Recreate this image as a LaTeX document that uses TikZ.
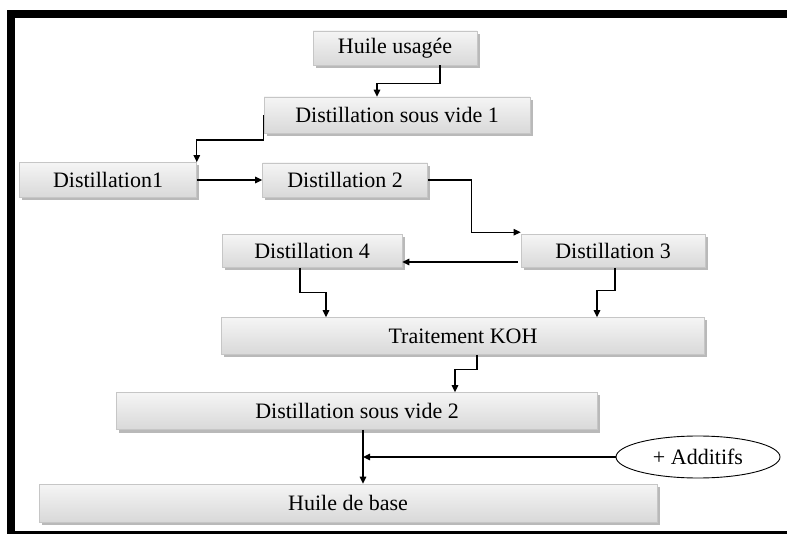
\documentclass[tikz,border=0pt]{standalone}
\usepackage{fontspec}
\setmainfont{Liberation Serif}
\usetikzlibrary{arrows.meta,shapes.geometric,shadows}
\begin{document}
\begin{tikzpicture}[x=1pt,y=-1pt,
  box/.style={rectangle, draw=gray!45, line width=0.6pt, top color=gray!8, bottom color=gray!30,
    drop shadow={shadow xshift=2.5pt, shadow yshift=-3pt, fill=gray!55, opacity=1},
    font=\fontsize{22}{26}\selectfont, inner sep=0pt},
  arr/.style={draw=black, line width=1.3pt, -{Triangle[length=7pt,width=6.5pt]}},
  ln/.style={draw=black, line width=1.3pt}]
\useasboundingbox (0,0) rectangle (787,534);
% frame
\fill[black] (7,10) rectangle (787,18);
\fill[black] (7,10) rectangle (15,534);
\fill[black] (7,531) rectangle (787,534);
% nodes
\node[box, minimum width=164pt, minimum height=34pt] (hu) at (395,48) {Huile usagée};
\node[box, minimum width=266pt, minimum height=36pt] (dsv1) at (397,115) {Distillation sous vide 1};
\node[box, minimum width=177pt, minimum height=35pt] (d1) at (108,180) {Distillation1};
\node[box, minimum width=165pt, minimum height=34pt] (d2) at (345,180) {Distillation 2};
\node[box, minimum width=184pt, minimum height=33pt] (d3) at (613,251) {Distillation 3};
\node[box, minimum width=180pt, minimum height=33pt] (d4) at (312,251) {Distillation 4};
\node[box, minimum width=483pt, minimum height=37pt] (koh) at (463,336) {Traitement KOH};
\node[box, minimum width=481pt, minimum height=37pt] (dsv2) at (357,411) {Distillation sous vide 2};
\node[box, minimum width=618pt, minimum height=38pt] (hb) at (348,503) {Huile de base};
\node[ellipse, draw=black, line width=0.9pt, fill=white, minimum width=164pt, minimum height=42pt,
  inner sep=0pt, font=\fontsize{22}{26}\selectfont] (add) at (698,457) {+ Additifs};
% connectors
\draw[arr] ([xshift=45pt]hu.south) -- ++(0,18) -| ([xshift=-20pt]dsv1.north);
\draw[arr] (dsv1.west) -- ++(0,25) -| (d1.north east);
\draw[arr] (d1.east) -- (d2.west);
\draw[arr] (d2.east) -- ++(44,0) |- ([yshift=2pt]d3.north west);
\draw[arr] ([xshift=-3pt,yshift=-11pt]d3.west) -- ([yshift=-11pt]d4.east);
\draw[arr] ([xshift=-12pt]d4.south) -- ++(0,25) -| ([xshift=-137pt]koh.north);
\draw[arr] ([xshift=2pt]d3.south) -- ++(0,23) -| ([xshift=134pt]koh.north);
\draw[arr] ([xshift=14pt]koh.south) -- ++(0,15) -| ([xshift=98pt]dsv2.north);
\coordinate (m) at ([xshift=15pt]hb.north);
\draw[arr] ([xshift=6pt]dsv2.south) -- (m);
\draw[arr] (add.west) -- (add.west -| m);
\end{tikzpicture}
\end{document}
